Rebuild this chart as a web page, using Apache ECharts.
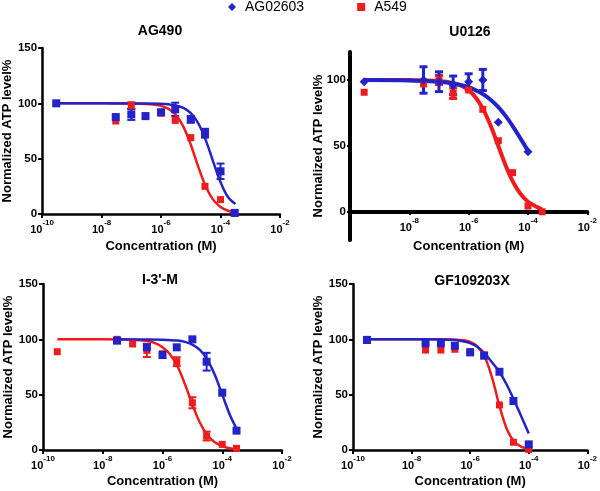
<!DOCTYPE html>
<html><head><meta charset="utf-8">
<script src="https://cdn.jsdelivr.net/npm/echarts@6/dist/echarts.min.js"></script>
<style>html,body{margin:0;padding:0;background:#fff}#c{width:600px;height:491px}</style>
</head><body><div id="c"></div><script>
const FONT = '"Liberation Sans", Arial, sans-serif';
const BLUE = '#2323c8', RED = '#ee1c1c';
const seriesNames = ['AG02603', 'A549'];
const panelTitles = ['AG490', 'U0126', "I-3'-M", 'GF109203X'];
const xName = 'Concentration (M)';
const yName = 'Normalized ATP level%';
// concentrations (M)
const conc = [3e-10, 3e-8, 1e-7, 3e-7, 1e-6, 3e-6, 1e-5, 3e-5, 1e-4, 3e-4];
const xTickExps = [-10, -8, -6, -4, -2];
const yTicks = [0, 50, 100, 150];

// AG490
const ag490Blue = [100, 87.6, 90, 88.5, 92, 94.6, 85.5, 73, 38.6, 1];
const ag490BlueErr = [0, 0, 5, 0, 0, 6, 3, 4, 7, 0];
const ag490Red = [100, 84, 98, 88, 91, 84.6, 69, 25, 13, 0.5];
const ag490RedErr = [0, 0, 3, 0, 0, 0, 0, 0, 0, 0];
const ag490BlueFitX = [-9.52, -8, -7, -6.5, -6, -5.75, -5.5, -5.25, -5, -4.75, -4.5, -4.25, -4, -3.75, -3.5];
const ag490BlueFitY = [100, 100, 99.9, 99.9, 99.6, 99.1, 98.1, 95.8, 91.1, 82, 67, 47.6, 28.8, 15.3, 9];
const ag490RedFitX = [-9.52, -8, -7, -6.5, -6.25, -6, -5.75, -5.5, -5.25, -5, -4.75, -4.5, -4.25, -4, -3.75, -3.5];
const ag490RedFitY = [100, 100, 99.9, 99.5, 98.9, 97.7, 95, 89.4, 78.9, 62.6, 42.8, 25.1, 13, 6.3, 2.9, 1.3];

// U0126
const u0126Blue = [98.7, 100, 98.7, 96, 98.7, 100, 68, null, 45.7, null];
const u0126BlueErr = [0, 10, 7.5, 7, 6, 8, 0, 0, 0, 0];
const u0126Red = [90.7, 97, 100, 90, 92.4, 77.8, 54, 29.8, 4.5, 0.2];
const u0126RedErr = [0, 0, 3.5, 4, 0, 0, 0, 0, 0, 0];
const u0126BlueFitX = [-9.52, -8, -7, -6.5, -6, -5.5, -5.25, -5, -4.75, -4.5, -4.25, -4];
const u0126BlueFitY = [100, 99.7, 98.7, 97.3, 94.5, 89, 84.8, 79.4, 72.6, 64.5, 55.6, 46.3];
const u0126RedFitX = [-9.52, -8, -7, -6.5, -6.25, -6, -5.75, -5.5, -5.25, -5, -4.75, -4.5, -4.25, -4, -3.75, -3.53];
const u0126RedFitY = [100, 99.9, 99.3, 97.6, 95.6, 92.2, 86.4, 77.4, 64.9, 50, 35.1, 22.6, 13.6, 7.8, 4.4, 2];

// I-3'-M
const i3mBlue = [null, 98.8, null, 92.8, 85.8, 92.8, 100, 79.8, 51.8, 17.5];
const i3mBlueErr = [0, 0, 0, 0, 0, 0, 0, 8, 0, 0];
const i3mRed = [88.8, 100, 95.8, 90, 87, 79.8, 42.7, 12.6, 5.1, 1.5];
const i3mRedErr = [0, 0, 0, 6, 0, 4, 5, 4, 0, 0];
const i3mBlueFitX = [-7.52, -6.5, -6, -5.5, -5.25, -5, -4.75, -4.5, -4.25, -4, -3.75, -3.53];
const i3mBlueFitY = [100, 99.9, 99.7, 98.9, 97.7, 95.2, 90.4, 81.7, 67.9, 50, 32.1, 19.7];
const i3mRedFitX = [-9.52, -8, -7, -6.5, -6.25, -6, -5.75, -5.5, -5.25, -5, -4.75, -4.5, -4.25, -4, -3.75, -3.53];
const i3mRedFitY = [100, 100, 99.6, 98.4, 96.5, 92.8, 86.5, 75.7, 59.6, 41.1, 24.8, 13.5, 6.9, 3.4, 1.6, 0.85];

// GF109203X
const gfBlue = [99.4, 96.4, 96.4, 94.2, 88.2, 85.2, 70.7, 44.3, 5.1, null];
const gfBlueErr = [0, 0, 0, 0, 0, 0, 0, 0, 0, 0];
const gfRed = [100, 90.3, 90.3, 91, 89, 86, 40.7, 7, 0.5, null];
const gfRedErr = [0, 0, 0, 0, 0, 0, 0, 0, 0, 0];
const gfBlueFitX = [-9.52, -8, -7, -6.5, -6.25, -6, -5.75, -5.5, -5.25, -5, -4.75, -4.5, -4.25, -4];
const gfBlueFitY = [100, 100, 99.9, 99.3, 98.2, 96.5, 93, 87, 79, 70.5, 59, 45, 30, 15];
const gfRedFitX = [-9.52, -8, -7, -6.5, -6.25, -6, -5.75, -5.5, -5.25, -5, -4.75, -4.5, -4.25, -4];
const gfRedFitY = [100, 100, 100, 99.7, 99.2, 97.7, 93.7, 84, 65.1, 39.8, 19, 7.7, 2.9, 1];

const panels = [
  {blue: ag490Blue, blueErr: ag490BlueErr, red: ag490Red, redErr: ag490RedErr,
   bfx: ag490BlueFitX, bfy: ag490BlueFitY, rfx: ag490RedFitX, rfy: ag490RedFitY},
  {blue: u0126Blue, blueErr: u0126BlueErr, red: u0126Red, redErr: u0126RedErr,
   bfx: u0126BlueFitX, bfy: u0126BlueFitY, rfx: u0126RedFitX, rfy: u0126RedFitY},
  {blue: i3mBlue, blueErr: i3mBlueErr, red: i3mRed, redErr: i3mRedErr,
   bfx: i3mBlueFitX, bfy: i3mBlueFitY, rfx: i3mRedFitX, rfy: i3mRedFitY},
  {blue: gfBlue, blueErr: gfBlueErr, red: gfRed, redErr: gfRedErr,
   bfx: gfBlueFitX, bfy: gfBlueFitY, rfx: gfRedFitX, rfy: gfRedFitY}
];

// layout / style (not data)
const grids = [
  {left: 40, top: 48, width: 240, height: 166},
  {left: 350, top: 52, width: 240, height: 160},
  {left: 43, top: 284, width: 239, height: 166},
  {left: 353, top: 284, width: 235, height: 166},
  {left: 350, top: 52, width: 240, height: 188}   // U0126 full-height y axis line (extends below 0)
];
const titlePos = [[160, 23], [470, 24], [160, 272], [472, 273]];
const lineW = [2.5, 4, 2.5, 2.5];
const axisW = [2.5, 4, 2.5, 2.5];
const yNameGap = [25, 25, 28, 25];
const xNameGap = [25, 27, 24, 24];

const chart = echarts.init(document.getElementById('c'), null, {renderer: 'canvas'});

function errItem(capW, lw, color) {
  return function (params, api) {
    const x = api.value(0), lo = api.value(1), hi = api.value(2);
    const p1 = api.coord([x, lo]), p2 = api.coord([x, hi]);
    const st = {stroke: color, lineWidth: lw};
    return {type: 'group', children: [
      {type: 'line', shape: {x1: p1[0], y1: p1[1], x2: p2[0], y2: p2[1]}, style: st},
      {type: 'line', shape: {x1: p1[0] - capW, y1: p1[1], x2: p1[0] + capW, y2: p1[1]}, style: st},
      {type: 'line', shape: {x1: p2[0] - capW, y1: p2[1], x2: p2[0] + capW, y2: p2[1]}, style: st}
    ]};
  };
}

const xAxes = [], yAxes = [], series = [], titles = [];
panels.forEach((p, i) => {
  titles.push({text: panelTitles[i], left: titlePos[i][0], top: titlePos[i][1], textAlign: 'center', padding: 0,
    textStyle: {fontFamily: FONT, fontSize: 14, fontWeight: 'bold', color: '#000', lineHeight: 16}});
  const special = i === 1;
  xAxes.push({
    gridIndex: i, type: 'value', min: -10, max: -2, interval: 2,
    axisLine: {show: true, onZero: false, lineStyle: {color: '#000', width: axisW[i]}},
    axisTick: {show: true, length: special ? 3 : 4, lineStyle: {color: '#000', width: 2},
      customValues: special ? xTickExps.slice(1) : xTickExps},
    splitLine: {show: false},
    axisLabel: {
      margin: 5, customValues: special ? xTickExps.slice(1) : xTickExps,
      formatter: v => '{b|10}{s|' + v + '}',
      rich: {
        b: {fontFamily: FONT, fontSize: 11, fontWeight: 'bold', color: '#000', lineHeight: 16, verticalAlign: 'bottom'},
        s: {fontFamily: FONT, fontSize: 8, fontWeight: 'bold', color: '#000', lineHeight: 9, verticalAlign: 'top'}
      }
    },
    name: xName, nameLocation: 'middle', nameGap: xNameGap[i],
    nameTextStyle: {fontFamily: FONT, fontSize: 13, fontWeight: 'bold', color: '#000', lineHeight: 15, verticalAlign: 'top'}
  });
  yAxes.push({
    gridIndex: i, type: 'value',
    min: 0, max: special ? 121.2 : 150,
    axisLine: {show: !special, onZero: false, lineStyle: {color: '#000', width: axisW[i]}},
    axisTick: {show: true, length: special ? 3 : 4, lineStyle: {color: '#000', width: 2},
      customValues: special ? yTicks.slice(0, 3) : yTicks},
    splitLine: {show: false},
    axisLabel: {margin: special ? 4 : 5, customValues: special ? yTicks.slice(0, 3) : yTicks,
      fontFamily: FONT, fontSize: 11.5, fontWeight: 'bold', color: '#000'},
    name: special ? '' : yName, nameLocation: 'middle', nameGap: yNameGap[i],
    nameTextStyle: {fontFamily: FONT, fontSize: 13, fontWeight: 'bold', color: '#000'}
  });
  const errData = (vals, errs) => conc.map((c, k) => [Math.log10(c), vals[k], errs[k]])
    .filter(d => d[1] != null && d[2] > 0).map(d => [d[0], d[1] - d[2], d[1] + d[2]]);
  const capW = 4, ew = special ? 3 : 2;
  series.push({type: 'custom', name: 'A549 err', xAxisIndex: i, yAxisIndex: i, renderItem: errItem(capW, ew, RED),
    encode: {x: 0, y: [1, 2]}, data: errData(p.red, p.redErr), itemStyle: {color: RED}, z: 2, silent: true, clip: false});
  series.push({type: 'custom', name: 'AG02603 err', xAxisIndex: i, yAxisIndex: i, renderItem: errItem(capW, ew, BLUE),
    encode: {x: 0, y: [1, 2]}, data: errData(p.blue, p.blueErr), itemStyle: {color: BLUE}, z: 2, silent: true, clip: false});
  series.push({type: 'line', name: 'A549 fit', xAxisIndex: i, yAxisIndex: i, showSymbol: false, symbol: 'none',
    smooth: 0.35, lineStyle: {color: RED, width: lineW[i]}, itemStyle: {color: RED},
    data: p.rfx.map((x, k) => [x, p.rfy[k]]), z: 3, silent: true, clip: false});
  series.push({type: 'line', name: 'AG02603 fit', xAxisIndex: i, yAxisIndex: i, showSymbol: false, symbol: 'none',
    smooth: 0.35, lineStyle: {color: BLUE, width: lineW[i]}, itemStyle: {color: BLUE},
    data: p.bfx.map((x, k) => [x, p.bfy[k]]), z: 3, silent: true, clip: false});
  series.push({type: 'scatter', name: seriesNames[1], xAxisIndex: i, yAxisIndex: i, symbol: 'rect',
    symbolSize: 7, itemStyle: {color: RED, opacity: 1}, clip: false,
    data: conc.map((c, k) => [Math.log10(c), p.red[k]]).filter(d => d[1] != null), z: 4, silent: true});
  series.push({type: 'scatter', name: seriesNames[0], xAxisIndex: i, yAxisIndex: i,
    symbol: special ? 'diamond' : 'rect', symbolSize: special ? 9 : 8, itemStyle: {color: BLUE, opacity: 1}, clip: false,
    data: conc.map((c, k) => [Math.log10(c), p.blue[k]]).filter(d => d[1] != null), z: 5, silent: true});
});
// full-length y axis line for U0126 panel (runs below zero), carries the axis name
xAxes.push({gridIndex: 4, type: 'value', min: -10, max: -2, show: false});
yAxes.push({gridIndex: 4, type: 'value', min: -21.2, max: 121.2,
  axisLine: {show: true, onZero: false, lineStyle: {color: '#000', width: 4}},
  axisTick: {show: false}, axisLabel: {show: false}, splitLine: {show: false},
  name: yName, nameLocation: 'middle', nameGap: 25,
  nameTextStyle: {fontFamily: FONT, fontSize: 13, fontWeight: 'bold', color: '#000'}});

chart.setOption({
  animation: false,
  backgroundColor: '#fff',
  title: titles,
  legend: {
    top: 0, left: 228, padding: 0, itemGap: 53, itemWidth: 8, itemHeight: 8,
    data: [{name: seriesNames[0], icon: 'diamond'}, {name: seriesNames[1], icon: 'rect'}],
    textStyle: {fontFamily: FONT, fontSize: 14, color: '#000', lineHeight: 14, padding: [0, 0, 0, 4]}
  },
  grid: grids,
  xAxis: xAxes,
  yAxis: yAxes,
  series: series
});
</script></body></html>
